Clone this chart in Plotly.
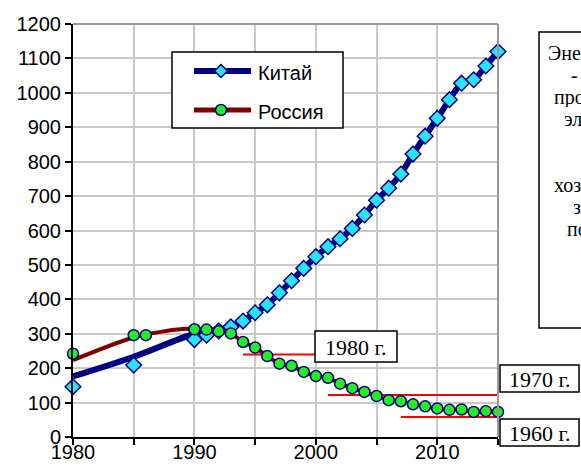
import plotly.graph_objects as go

# ---- data -------------------------------------------------------------
china_years = [1980, 1985, 1990, 1991, 1992, 1993, 1994, 1995, 1996, 1997,
               1998, 1999, 2000, 2001, 2002, 2003, 2004, 2005, 2006, 2007,
               2008, 2009, 2010, 2011, 2012, 2013, 2014, 2015]
china_values = [146, 209, 283, 296, 308, 320, 337, 361, 384, 419,
                454, 490, 524, 553, 576, 606, 645, 688, 723, 764,
                822, 874, 926, 980, 1028, 1038, 1078, 1120]

# smoothed trend for the 1980s, then the yearly values
china_line_years = [1980, 1985, 1990] + china_years[5:]
china_line_values = [176, 233, 300] + china_values[5:]

russia_years = [1980, 1985, 1986, 1990, 1991, 1992, 1993, 1994, 1995, 1996,
                1997, 1998, 1999, 2000, 2001, 2002, 2003, 2004, 2005, 2006,
                2007, 2008, 2009, 2010, 2011, 2012, 2013, 2014, 2015]
russia_values = [242, 296, 296, 313, 312, 307, 301, 276, 260, 235,
                 213, 207, 189, 177, 172, 155, 142, 131, 119, 107,
                 104, 95, 89, 83, 79, 80, 73, 75, 73]

russia_line_years = [1980, 1985, 1989] + russia_years[4:]
russia_line_values = [223, 289, 314] + russia_values[4:]

# reference levels: label, value, years covered
ref_labels = ["1980 г.", "1970 г.", "1960 г."]
ref_values = [240, 122, 58]
ref_starts = [1994, 2001, 2007]
ref_ends = [2000, 2015, 2015]

series_names = ["Китай", "Россия"]

x_ticks = [1980, 1985, 1990, 1995, 2000, 2005, 2010, 2015]
x_tick_text = ["1980", "", "1990", "", "2000", "", "2010", ""]
y_ticks = list(range(0, 1201, 100))

# side note (the part of it that fits on the page)
note_lines = ["Эне", "-", "про", "эл", "хоз", "з", "по"]

# ---- layout geometry (pixels) -----------------------------------------
W, H = 581, 471
L, R, T, B = 73, 498, 24, 437


def px(xp):
    return (xp - L) / (R - L)


def py(yp):
    return (B - yp) / (B - T)


NAVY = "#000080"
MAROON = "#800000"
CYAN = "#28E4F8"
GREEN = "#22EE22"
SANS = "Liberation Sans, Arial, sans-serif"
SERIF = "Liberation Serif, Times New Roman, serif"

fig = go.Figure()

# trend lines
fig.add_trace(go.Scatter(
    x=china_line_years, y=china_line_values, mode="lines",
    line=dict(color=NAVY, width=6, shape="spline", smoothing=0.8),
    showlegend=False, hoverinfo="skip", cliponaxis=False))
fig.add_trace(go.Scatter(
    x=russia_line_years, y=russia_line_values, mode="lines",
    line=dict(color=MAROON, width=4, shape="spline", smoothing=0.8),
    showlegend=False, hoverinfo="skip", cliponaxis=False))

# reference levels
for val, x0, x1 in zip(ref_values, ref_starts, ref_ends):
    fig.add_trace(go.Scatter(
        x=[x0, x1], y=[val, val], mode="lines",
        line=dict(color="#FF0000", width=2),
        showlegend=False, hoverinfo="skip", cliponaxis=False))

# yearly markers
fig.add_trace(go.Scatter(
    x=china_years, y=china_values, mode="markers", name=series_names[0],
    marker=dict(symbol="diamond", size=12, color=CYAN,
                line=dict(color=NAVY, width=1.5)),
    showlegend=False, cliponaxis=False))
fig.add_trace(go.Scatter(
    x=russia_years, y=russia_values, mode="markers", name=series_names[1],
    marker=dict(symbol="circle", size=11, color=GREEN,
                line=dict(color=NAVY, width=1.5)),
    showlegend=False, cliponaxis=False))

shapes = []
annotations = []

# ---- legend box ---------------------------------------------------------
shapes.append(dict(type="rect", xref="paper", yref="paper",
                   x0=px(172), x1=px(343), y0=py(128), y1=py(52),
                   line=dict(color="black", width=1.5),
                   fillcolor="white", layer="above"))
legend_rows = [
    dict(y=71, color=NAVY, width=6, symbol="diamond"),
    dict(y=110, color=MAROON, width=5, symbol="circle"),
]
for name, row in zip(series_names, legend_rows):
    yy = row["y"]
    shapes.append(dict(type="line", xref="paper", yref="paper",
                       x0=px(194), x1=px(251), y0=py(yy), y1=py(yy),
                       line=dict(color=row["color"], width=row["width"]),
                       layer="above"))
    cx = 221
    if row["symbol"] == "diamond":
        r = 6.5
        path = "M {a},{b} L {c},{d} L {e},{b} L {c},{f} Z".format(
            a=px(cx - r), b=py(yy), c=px(cx), d=py(yy - r),
            e=px(cx + r), f=py(yy + r))
        shapes.append(dict(type="path", xref="paper", yref="paper",
                           path=path, fillcolor=CYAN,
                           line=dict(color=NAVY, width=1.5), layer="above"))
    else:
        r = 5.5
        shapes.append(dict(type="circle", xref="paper", yref="paper",
                           x0=px(cx - r), x1=px(cx + r),
                           y0=py(yy + r), y1=py(yy - r), fillcolor=GREEN,
                           line=dict(color=NAVY, width=1.5), layer="above"))
    annotations.append(dict(xref="paper", yref="paper",
                            x=px(256), y=py(yy + 2), text=name,
                            showarrow=False, xanchor="left",
                            yanchor="middle",
                            font=dict(family=SANS, size=20, color="black")))

# ---- labels of the reference levels -------------------------------------
label_boxes = [
    dict(x0=315, y0=331, x1=397, y1=362),
    dict(x0=500, y0=365, x1=579, y1=392),
    dict(x0=500, y0=419, x1=579, y1=446),
]
for lab, bx in zip(ref_labels, label_boxes):
    shapes.append(dict(type="rect", xref="paper", yref="paper",
                       x0=px(bx["x0"]), x1=px(bx["x1"]),
                       y0=py(bx["y1"]), y1=py(bx["y0"]),
                       line=dict(color="black", width=1.5),
                       fillcolor="white", layer="above"))
    annotations.append(dict(xref="paper", yref="paper",
                            x=px((bx["x0"] + bx["x1"]) / 2),
                            y=py((bx["y0"] + bx["y1"]) / 2 + 1),
                            text=lab, showarrow=False,
                            font=dict(family=SERIF, size=22, color="black"),
                            xanchor="center", yanchor="middle"))

# top and right frame of the plot area
shapes.append(dict(type="line", xref="paper", yref="paper",
                   x0=0, x1=1, y0=1, y1=1,
                   line=dict(color="#9a9a9a", width=2), layer="above"))
shapes.append(dict(type="line", xref="paper", yref="paper",
                   x0=1, x1=1, y0=0, y1=1,
                   line=dict(color="#9a9a9a", width=2), layer="above"))

# ---- side note box ------------------------------------------------------
shapes.append(dict(type="rect", xref="paper", yref="paper",
                   x0=px(539), x1=px(700), y0=py(328), y1=py(32),
                   line=dict(color="black", width=1.5),
                   fillcolor="white", layer="above"))
note_x = [547, 570, 553, 563, 553, 572, 566]
note_y = [53, 75, 97, 119, 185, 207, 229]
for txt, nx, ny in zip(note_lines, note_x, note_y):
    annotations.append(dict(xref="paper", yref="paper",
                            x=px(nx), y=py(ny), text=txt, showarrow=False,
                            font=dict(family=SERIF, size=20, color="black"),
                            height=20, borderpad=0,
                            xanchor="left", yanchor="middle"))

axis_common = dict(
    showgrid=True, gridcolor="#c8c8c8", gridwidth=1.5,
    showline=True, linecolor="black", linewidth=2,
    ticks="outside", ticklen=6, tickwidth=2, tickcolor="black",
    zeroline=False, automargin=False,
    tickfont=dict(family=SANS, size=20, color="black"),
)

fig.update_layout(
    width=W, height=H,
    margin=dict(l=L, r=W - R, t=T, b=H - B),
    paper_bgcolor="white", plot_bgcolor="white",
    font=dict(family=SANS, size=20, color="black"),
    showlegend=False,
    shapes=shapes,
    annotations=annotations,
    xaxis=dict(range=[1980, 2015], tickvals=x_ticks, ticktext=x_tick_text,
               ticklabelstandoff=-10, **axis_common),
    yaxis=dict(range=[0, 1200], tickvals=y_ticks,
               ticksuffix="\u00a0\u00a0", **axis_common),
)

fig.write_html("out.html")
